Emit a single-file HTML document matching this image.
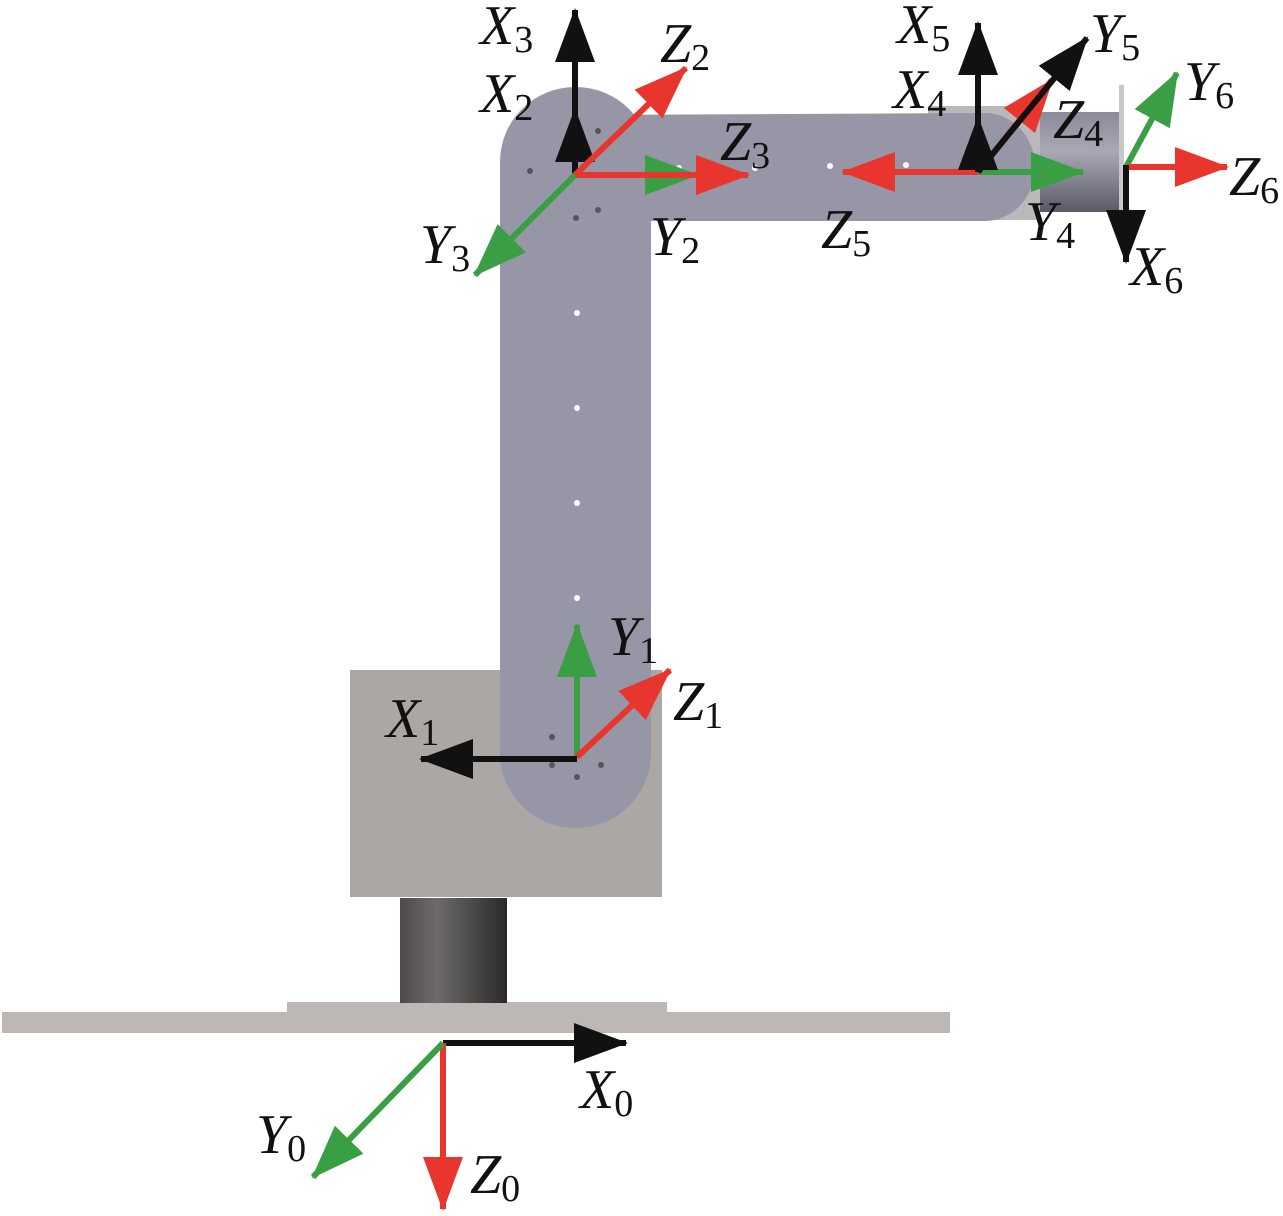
<!DOCTYPE html>
<html><head><meta charset="utf-8"><style>
html,body{margin:0;padding:0;background:#fff}
svg{display:block}
.t{font-family:'Liberation Serif','Times New Roman','DejaVu Serif',serif;font-style:italic;font-size:56px;fill:#111}
.t tspan{font-style:normal;font-size:38px}
</style></head><body>
<svg width="1283" height="1216" viewBox="0 0 1283 1216" xmlns="http://www.w3.org/2000/svg">
<defs>
<marker id="mk" markerUnits="userSpaceOnUse" markerWidth="54" markerHeight="40" refX="52" refY="20" orient="auto"><path d="M0,0 L54,20 L0,40 z" fill="#111"/></marker>
<marker id="mr" markerUnits="userSpaceOnUse" markerWidth="54" markerHeight="40" refX="52" refY="20" orient="auto"><path d="M0,0 L54,20 L0,40 z" fill="#e8352d"/></marker>
<marker id="mg" markerUnits="userSpaceOnUse" markerWidth="54" markerHeight="40" refX="52" refY="20" orient="auto"><path d="M0,0 L54,20 L0,40 z" fill="#3a9e45"/></marker>
<linearGradient id="col" x1="0" x2="1"><stop offset="0" stop-color="#4e4a4b"/><stop offset="0.35" stop-color="#6e6a6b"/><stop offset="1" stop-color="#2a2828"/></linearGradient>
<linearGradient id="cyl" x1="0" y1="0" x2="0" y2="1"><stop offset="0" stop-color="#8a8a98"/><stop offset="0.4" stop-color="#a8a8b6"/><stop offset="1" stop-color="#5a5a66"/></linearGradient>
</defs>
<rect x="2" y="1012" width="948" height="21" fill="#bdb8b6"/>
<rect x="287" y="1002" width="380" height="12" fill="#bdb8b6"/>
<rect x="400" y="898" width="107" height="105" fill="url(#col)"/>
<rect x="350" y="670" width="312" height="227" fill="#aba7a5"/>
<rect x="928" y="106" width="112" height="114" fill="#bab8b8"/>
<rect x="500" y="87" width="151" height="741" rx="75" ry="75" fill="#9696a7"/>
<path d="M575,115 L985,113 A50,54 0 0 1 985,221 L575,221 z" fill="#9696a7"/>
<rect x="1040" y="112" width="80" height="100" fill="url(#cyl)"/>
<rect x="1119" y="85" width="5" height="127" fill="#c8c8c8"/>
<g fill="#fff"><circle cx="577" cy="313" r="3"/><circle cx="577" cy="408" r="3"/><circle cx="577" cy="503" r="3"/><circle cx="577" cy="598" r="3"/><circle cx="679" cy="168" r="3"/><circle cx="755" cy="168" r="3"/><circle cx="830" cy="166" r="3"/><circle cx="906" cy="165" r="3"/></g>
<g fill="#555"><circle cx="598" cy="131" r="3"/><circle cx="530" cy="171" r="3"/><circle cx="598" cy="210" r="3"/><circle cx="576" cy="218" r="3"/><circle cx="552" cy="737" r="3"/><circle cx="552" cy="765" r="3"/><circle cx="601" cy="765" r="3"/><circle cx="577" cy="777" r="3"/></g>
<g stroke-width="6">
<line x1="443" y1="1043" x2="626" y2="1043" stroke="#111" marker-end="url(#mk)"/>
<line x1="443" y1="1043" x2="443" y2="1209" stroke="#e8352d" marker-end="url(#mr)"/>
<line x1="443" y1="1043" x2="313" y2="1177" stroke="#3a9e45" marker-end="url(#mg)"/>
<line x1="577" y1="757" x2="577" y2="625" stroke="#3a9e45" marker-end="url(#mg)"/>
<line x1="577" y1="757" x2="670" y2="670" stroke="#e8352d" marker-end="url(#mr)"/>
<line x1="577" y1="759" x2="421" y2="759" stroke="#111" marker-end="url(#mk)"/>
<line x1="575" y1="175" x2="575" y2="110" stroke="#111" marker-end="url(#mk)"/>
<line x1="575" y1="175" x2="575" y2="10" stroke="#111" marker-end="url(#mk)"/>
<line x1="575" y1="175" x2="686" y2="68" stroke="#e8352d" marker-end="url(#mr)"/>
<line x1="575" y1="175" x2="697" y2="175" stroke="#3a9e45" marker-end="url(#mg)"/>
<line x1="575" y1="175" x2="748" y2="175" stroke="#e8352d" marker-end="url(#mr)"/>
<line x1="575" y1="175" x2="475" y2="275" stroke="#3a9e45" marker-end="url(#mg)"/>
<line x1="978" y1="172" x2="843" y2="172" stroke="#e8352d" marker-end="url(#mr)"/>
<line x1="978" y1="172" x2="1083" y2="172" stroke="#3a9e45" marker-end="url(#mg)"/>
<line x1="978" y1="172" x2="1052" y2="80" stroke="#e8352d" marker-end="url(#mr)"/>
<line x1="978" y1="172" x2="978" y2="118" stroke="#111" marker-end="url(#mk)"/>
<line x1="978" y1="172" x2="978" y2="23" stroke="#111" marker-end="url(#mk)"/>
<line x1="978" y1="172" x2="1087" y2="38" stroke="#111" marker-end="url(#mk)"/>
<line x1="1126" y1="167" x2="1177" y2="73" stroke="#3a9e45" marker-end="url(#mg)"/>
<line x1="1126" y1="167" x2="1227" y2="167" stroke="#e8352d" marker-end="url(#mr)"/>
<line x1="1126" y1="165" x2="1126" y2="262" stroke="#111" marker-end="url(#mk)"/>
</g>
<text class="t" x="480" y="44">X<tspan dy="8">3</tspan></text>
<text class="t" x="480" y="112">X<tspan dy="8">2</tspan></text>
<text class="t" x="660" y="62">Z<tspan dy="8">2</tspan></text>
<text class="t" x="720" y="160">Z<tspan dy="8">3</tspan></text>
<text class="t" x="650" y="255">Y<tspan dy="8">2</tspan></text>
<text class="t" x="420" y="263">Y<tspan dy="8">3</tspan></text>
<text class="t" x="897" y="43">X<tspan dy="8">5</tspan></text>
<text class="t" x="893" y="108">X<tspan dy="8">4</tspan></text>
<text class="t" x="1090" y="52">Y<tspan dy="8">5</tspan></text>
<text class="t" x="1184" y="100">Y<tspan dy="8">6</tspan></text>
<text class="t" x="1053" y="138">Z<tspan dy="8">4</tspan></text>
<text class="t" x="1229" y="195">Z<tspan dy="8">6</tspan></text>
<text class="t" x="1025" y="240">Y<tspan dy="8">4</tspan></text>
<text class="t" x="821" y="248">Z<tspan dy="8">5</tspan></text>
<text class="t" x="1130" y="285">X<tspan dy="8">6</tspan></text>
<text class="t" x="608" y="655">Y<tspan dy="8">1</tspan></text>
<text class="t" x="673" y="720">Z<tspan dy="8">1</tspan></text>
<text class="t" x="386" y="737">X<tspan dy="8">1</tspan></text>
<text class="t" x="580" y="1108">X<tspan dy="8">0</tspan></text>
<text class="t" x="256" y="1153">Y<tspan dy="8">0</tspan></text>
<text class="t" x="470" y="1193">Z<tspan dy="8">0</tspan></text>
</svg>
</body></html>
